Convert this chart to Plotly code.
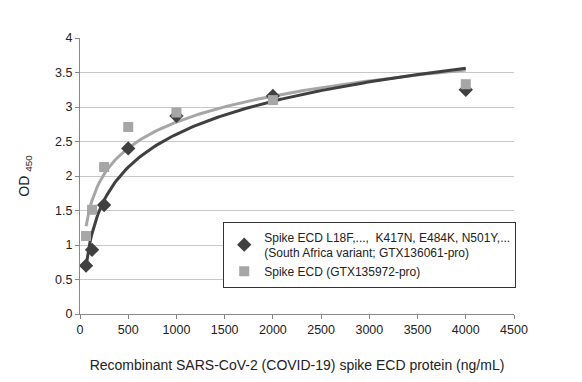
import numpy as np
import plotly.graph_objects as go

conc = [62.5, 125, 250, 500, 1000, 2000, 4000]
od_variant = [0.70, 0.93, 1.58, 2.40, 2.87, 3.16, 3.25]
od_wt = [1.13, 1.51, 2.13, 2.71, 2.92, 3.10, 3.33]
x_ticks = [0, 500, 1000, 1500, 2000, 2500, 3000, 3500, 4000, 4500]
y_ticks = [0, 0.5, 1, 1.5, 2, 2.5, 3, 3.5, 4]

name_variant = "Spike ECD L18F,...,  K417N, E484K, N501Y,...<br>(South Africa variant; GTX136061-pro)"
name_wt = "Spike ECD (GTX135972-pro)"

dark = "#404040"
light = "#a6a6a6"

def log_fit(x, y):
    a, b = np.polyfit(np.log(x), y, 1)
    xs = np.linspace(min(x), max(x), 200)
    return xs, a * np.log(xs) + b

fig = go.Figure()
for y, col in [(od_wt, light), (od_variant, dark)]:
    xs, ys = log_fit(conc, y)
    fig.add_trace(go.Scatter(x=xs, y=ys, mode="lines", line=dict(color=col, width=3),
                             showlegend=False, hoverinfo="skip"))

fig.add_trace(go.Scatter(x=conc, y=od_variant, mode="markers", name=name_variant,
                         marker=dict(symbol="diamond", size=11, color=dark)))
fig.add_trace(go.Scatter(x=conc, y=od_wt, mode="markers", name=name_wt,
                         marker=dict(symbol="square", size=10, color=light)))

font = "Liberation Sans, Arial, sans-serif"
fig.update_layout(
    width=582, height=382,
    margin=dict(l=72, r=76, t=30, b=76),
    paper_bgcolor="white", plot_bgcolor="white",
    font=dict(family=font, size=12, color="#222222"),
    xaxis=dict(range=[0, 4500], tickvals=x_ticks, showgrid=False,
               showline=True, linecolor="#888888", linewidth=1,
               ticks="outside", ticklen=4, tickcolor="#888888", zeroline=False,
               tickfont=dict(size=12.5),
               title=dict(text="Recombinant SARS-CoV-2 (COVID-19) spike ECD protein (ng/mL)",
                          font=dict(size=14), standoff=24)),
    yaxis=dict(range=[0, 4], tickvals=y_ticks, showgrid=True, gridcolor="#c8c8c8",
               showline=True, linecolor="#888888", linewidth=1,
               ticks="outside", ticklen=4, tickcolor="#888888", zeroline=False,
               tickfont=dict(size=12.5),
               title=dict(text="OD <sub>450</sub>", font=dict(size=14), standoff=22)),
    legend=dict(x=0.33, y=0.335, xanchor="left", yanchor="top",
                bordercolor="#333333", borderwidth=1, bgcolor="white",
                font=dict(size=12), tracegroupgap=0, itemwidth=30),
)

fig.write_html("out.html")
